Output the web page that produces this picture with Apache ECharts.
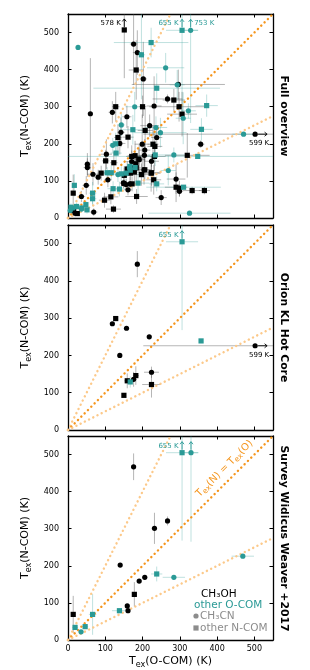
<!DOCTYPE html>
<html><head><meta charset="utf-8">
<script src="https://cdn.jsdelivr.net/npm/echarts@6/dist/echarts.min.js"></script>
<style>html,body{margin:0;padding:0;background:#fff}#c{width:310px;height:670px}</style>
</head><body><div id="c"></div><script>
// ---------------- data ----------------
const tickValues = [0, 100, 200, 300, 400, 500];
const axisMax = 550;
const panelTitles = ['Full overview', 'Orion KL Hot Core', 'Survey Widicus Weaver +2017'];
// point: [Tex(O-COM) K, Tex(N-COM) K, x error K, y error K]
// Full overview
const full_ch3oh_ch3cn = [
 [176,469,10,110],[186,446,12,60],[202,375,10,100],[296,360,125,40],[267,321,40,12],[60,281,0,150],
 [119,285,10,30],[158,273,12,30],[231,302,20,80],[142,231,10,40],[139,201,15,30],[219,249,25,30],
 [238,217,15,30],[199,199,20,80],[206,183,15,30],[356,199,10,10],[502,226,300,0],[224,153,20,15],
 [103,172,15,40],[52,145,8,30],[52,136,10,25],[67,118,15,30],[81,110,10,20],[49,88,10,25],
 [107,103,10,20],[149,95,10,15],[156,90,10,15],[166,92,10,20],[161,76,10,15],[250,55,15,20],
 [69,16,10,10],[36,58,10,15],[290,105,25,40],[19,13,5,8],[191,157,15,40],[205,169,15,30],
 [171,152,15,30],[176,136,8,20],[299,72,10,15],[204,130,20,40],[300,80,8,10],[12,22,5,8]
];
const full_ch3oh_ncom = [
 [151,507,0,130],[183,399,20,80],[284,318,30,30],[298,300,80,40],[306,280,40,60],[128,300,10,40],
 [200,300,10,30],[134,217,10,35],[161,218,15,30],[207,236,20,60],[228,199,15,50],[320,169,60,60],
 [232,166,30,40],[14,67,5,50],[98,48,15,20],[115,57,20,20],[122,24,20,10],[184,58,30,20],
 [333,74,25,10],[366,74,15,10],[290,83,30,40],[299,80,15,20],[223,121,25,50],[230,103,20,40],
 [197,117,20,30],[206,130,15,30],[171,166,15,30],[180,168,20,40],[190,159,15,30],[123,149,10,30],
 [101,154,10,30],[89,121,10,20],[168,121,10,20],[178,124,20,30],[151,115,15,25],[233,193,20,30],
 [183,135,25,35],[172,92,10,20],[150,93,10,10],[159,132,10,20],[182,146,10,25],[224,122,25,35],
 [15,20,5,8],[25,12,5,6]
];
const full_ocom_ch3cn = [
 [27,460,0,0],[262,405,50,40],[293,359,20,40],[309,269,20,70],[323,289,20,20],[179,300,25,40],
 [143,251,10,30],[236,244,30,30],[248,230,70,40],[471,226,30,0],[284,170,30,20],[329,506,20,250],
 [269,128,20,40],[326,13,110,0],[134,117,15,20],[165,135,15,20],[36,24,8,10],[14,27,5,10],
 [120,196,10,20],[6,20,5,5]
];
const full_ocom_ncom = [
 [223,473,100,40],[197,440,10,120],[306,506,43,240],[238,350,170,40],[372,303,30,30],[174,238,40,40],
 [128,200,15,30],[358,239,30,30],[348,166,350,0],[17,88,5,30],[66,67,10,30],[66,52,10,20],
 [121,79,15,20],[138,78,20,20],[188,94,30,30],[238,92,20,20],[310,83,100,0],[105,122,20,15],
 [116,122,15,20],[156,121,15,20],[143,119,10,20],[166,139,10,20],[180,136,10,20],[129,175,15,20],
 [234,170,20,30],[8,29,5,10],[23,31,5,10],[37,27,5,10],[51,22,5,10],[48,36,5,10],[167,129,10,15]
];
// Orion KL Hot Core
const orion_ch3oh_ch3cn = [[186,445,0,35],[119,285,0,0],[157,273,0,0],[218,250,0,0],[139,200,0,0],[176,136,8,20],[224,155,20,15],[502,226,300,0]];
const orion_ch3oh_ncom = [[128,299,0,0],[150,93,0,0],[159,132,8,20],[182,146,8,25],[224,122,25,35]];
const orion_ocom_ch3cn = [];
const orion_ocom_ncom = [[167,129,10,15],[306,505,43,237],[357,239,0,0]];
// Survey Widicus Weaver +2017
const survey_ch3oh_ch3cn = [[176,467,0,36],[232,301,0,42],[267,321,5,12],[140,202,0,0],[191,159,0,0],[206,169,0,0],[159,92,0,0],[161,79,0,0]];
const survey_ch3oh_ncom = [[178,123,0,33],[14,69,0,50]];
const survey_ocom_ch3cn = [[330,505,20,240],[284,169,30,5],[469,226,30,5],[35,22,8,5]];
const survey_ocom_ncom = [[306,505,43,237],[238,178,15,20],[138,79,20,5],[66,69,10,55],[19,34,8,5],[46,36,8,5]];
// limit annotations: [x, y, direction, label, label side, group]
const full_limits = [[151,507,'up','578 K','left','CH3OH'],[306,506,'up','655 K','left','O-COM'],[329,506,'up','753 K','right','O-COM'],[502,226,'right','599 K','below','CH3OH']];
const orion_limits = [[306,505,'up','655 K','left','O-COM'],[502,226,'right','599 K','below','CH3OH']];
const survey_limits = [[306,505,'up','655 K','left','O-COM'],[330,505,'up','','left','O-COM']];
// reference lines: slope of Tex(N) vs Tex(O)
const refSlopes = [2, 1, 0.5];
const legendLabels = ['CH₃OH', 'other O-COM', 'CH₃CN', 'other N-COM'];

// ---------------- chart ----------------
const FONT = 'DejaVu Sans';
const BLACK = '#000', TEAL = '#2a9a96', GRAY = '#8c8c8c';
const ORANGE = '#f5961e', LORANGE = '#fcc98a';
const GL = 68, GW = 205;
const grids = [{left:GL,width:GW,top:14,height:204},{left:GL,width:GW,top:225,height:205},{left:GL,width:GW,top:436,height:205}];
const panels = [
 {sets:[full_ch3oh_ch3cn, full_ch3oh_ncom, full_ocom_ch3cn, full_ocom_ncom], limits: full_limits},
 {sets:[orion_ch3oh_ch3cn, orion_ch3oh_ncom, orion_ocom_ch3cn, orion_ocom_ncom], limits: orion_limits},
 {sets:[survey_ch3oh_ch3cn, survey_ch3oh_ncom, survey_ocom_ch3cn, survey_ocom_ncom], limits: survey_limits}
];
const setStyle = [
 {sym:'circle', size:5.2, color:BLACK, err:'rgba(70,70,70,0.4)'},
 {sym:'rect', size:5.2, color:BLACK, err:'rgba(70,70,70,0.4)'},
 {sym:'circle', size:5.2, color:TEAL, err:'rgba(42,154,150,0.3)'},
 {sym:'rect', size:5.2, color:TEAL, err:'rgba(42,154,150,0.3)'}
];
const richName = {
 m:{fontSize:11, fontFamily:FONT, color:'#000', lineHeight:15},
 s:{fontSize:8, fontFamily:FONT, color:'#000', verticalAlign:'bottom', lineHeight:10, padding:[3,0,0,0]}
};
const xAxes = [], yAxes = [], series = [];
function axisBase(){
 return {type:'value', min:0, max:axisMax, interval:100,
  axisLine:{show:true, onZero:false, lineStyle:{color:'#000', width:1.3}},
  axisTick:{show:true, inside:true, length:3.5, customValues:tickValues, lineStyle:{color:'#000', width:1}},
  splitLine:{show:false},
  axisLabel:{show:false}};
}
grids.forEach((g, i) => {
 const last = i === grids.length - 1;
 const xb = axisBase(); xb.gridIndex = i; xb.position = 'bottom';
 if (last) {
  xb.axisLabel = {show:true, customValues:tickValues, fontSize:8, fontFamily:FONT, color:'#000', margin:5};
  xb.name = '{m|T}{s|ex}{m|(O-COM) (K)}'; xb.nameLocation = 'middle'; xb.nameGap = 14;
  xb.nameTextStyle = {rich:richName};
 }
 const xt = axisBase(); xt.gridIndex = i; xt.position = 'top';
 const yl = axisBase(); yl.gridIndex = i; yl.position = 'left';
 yl.axisLabel = {show:true, customValues:tickValues, fontSize:8, fontFamily:FONT, color:'#000', margin:9};
 yl.name = '{m|T}{s|ex}{m|(N-COM) (K)}'; yl.nameLocation = 'middle'; yl.nameGap = 23;
 yl.nameTextStyle = {rich:richName};
 const yr = axisBase(); yr.gridIndex = i; yr.position = 'right';
 xAxes.push(xb, xt); yAxes.push(yl, yr);
});

function errRender(color){
 return function(params, api){
  const x = api.value(0), y = api.value(1), ex = api.value(2), ey = api.value(3);
  const st = {stroke:color, lineWidth:1};
  const ch = [];
  if (ex > 0) { const a = api.coord([x-ex,y]), b = api.coord([x+ex,y]); ch.push({type:'line', shape:{x1:a[0],y1:a[1],x2:b[0],y2:b[1]}, style:st}); }
  if (ey > 0) { const a = api.coord([x,y-ey]), b = api.coord([x,y+ey]); ch.push({type:'line', shape:{x1:a[0],y1:a[1],x2:b[0],y2:b[1]}, style:st}); }
  const cs = params.coordSys;
  return {type:'group', children:ch, clipPath:{type:'rect', shape:{x:cs.x, y:cs.y, width:cs.width, height:cs.height}}};
 };
}
function limitRender(lims){
 return function(params, api){
  const n = lims[params.dataIndex];
  const c = api.coord([n[0], n[1]]);
  const col = n[5] === 'O-COM' ? TEAL : BLACK;
  const ls = {stroke:col, lineWidth:0.9, fill:null};
  const ch = [];
  if (n[2] === 'up') {
   const x = c[0], y0 = c[1]-3, y1 = c[1]-11;
   ch.push({type:'line', shape:{x1:x,y1:y0,x2:x,y2:y1}, style:ls});
   ch.push({type:'polyline', shape:{points:[[x-2,y1+2.5],[x,y1],[x+2,y1+2.5]]}, style:ls});
   if (n[3]) ch.push({type:'text', x: n[4]==='left' ? x-3.5 : x+3.5, y:c[1]-7, style:{text:n[3], fill:col, font:'7px '+FONT, align:n[4]==='left'?'right':'left', verticalAlign:'middle'}});
  } else {
   const y = c[1], x0 = c[0]+3, x1 = c[0]+12;
   ch.push({type:'line', shape:{x1:x0,y1:y,x2:x1,y2:y}, style:ls});
   ch.push({type:'polyline', shape:{points:[[x1-2.5,y-2],[x1,y],[x1-2.5,y+2]]}, style:ls});
   ch.push({type:'text', x:c[0]+4, y:y+9, style:{text:n[3], fill:col, font:'7px '+FONT, align:'center', verticalAlign:'middle'}});
  }
  return {type:'group', children:ch};
 };
}

panels.forEach((p, i) => {
 const ax = {xAxisIndex:2*i, yAxisIndex:2*i};
 p.sets.forEach((d, k) => {
  series.push(Object.assign({type:'custom', silent:true, clip:true, z:1, data:d, encode:{x:0, y:1},
   renderItem: errRender(setStyle[k].err)}, ax));
 });
 refSlopes.forEach(s => {
  const end = s >= 1 ? [axisMax/s, axisMax] : [axisMax, axisMax*s];
  series.push(Object.assign({type:'line', silent:true, symbol:'none', z:2, clip:true,
   data:[[0,0], end],
   lineStyle:{color: s === 1 ? ORANGE : LORANGE, width:2.4, type:[0.1,4.6], cap:'round'}}, ax));
 });
 p.sets.forEach((d, k) => {
  series.push(Object.assign({type:'scatter', silent:true, z:3, symbol:setStyle[k].sym, symbolSize:setStyle[k].size,
   itemStyle:{color:setStyle[k].color, opacity:1}, data:d.map(v => [v[0], v[1]])}, ax));
 });
 series.push(Object.assign({type:'custom', silent:true, z:4, data:p.limits.map(n => [n[0], n[1]]), encode:{x:0,y:1},
  renderItem: limitRender(p.limits)}, ax));
});
// diagonal label in last panel along Tex(N) = Tex(O)
const diagLabelAt = [[420, 462]];
series.push({type:'custom', silent:true, z:4, xAxisIndex:4, yAxisIndex:4, data:diagLabelAt, encode:{x:0,y:1},
 renderItem: function(params, api){
  const c = api.coord([api.value(0), api.value(1)]);
  return {type:'text', x:c[0], y:c[1], rotation:Math.PI/4,
   style:{text:'{m|T}{s|ex}{m|(N) = T}{s|ex}{m|(O)}', align:'center', verticalAlign:'middle',
    rich:{m:{fontSize:10, fontFamily:FONT, fill:ORANGE, lineHeight:13}, s:{fontSize:7.5, fontFamily:FONT, fill:ORANGE, verticalAlign:'bottom', lineHeight:9, padding:[3,0,0,0]}}}};
 }});

const graphic = [];
grids.forEach((g, i) => {
 graphic.push({type:'text', x:284, y:g.top + g.height/2, rotation:-Math.PI/2,
  style:{text:panelTitles[i], font:'bold 10.8px '+FONT, fill:'#000', align:'center', verticalAlign:'middle'}});
});
graphic.push({type:'text', x:201, y:594, style:{text:legendLabels[0], font:'10.5px '+FONT, fill:BLACK, verticalAlign:'middle'}});
graphic.push({type:'text', x:194, y:605, style:{text:legendLabels[1], font:'10.5px '+FONT, fill:TEAL, verticalAlign:'middle'}});
graphic.push({type:'circle', shape:{cx:196, cy:616, r:2.6}, style:{fill:GRAY}});
graphic.push({type:'text', x:200, y:616, style:{text:legendLabels[2], font:'10.5px '+FONT, fill:GRAY, verticalAlign:'middle'}});
graphic.push({type:'rect', shape:{x:193.4, y:625.4, width:5.2, height:5.2}, style:{fill:GRAY}});
graphic.push({type:'text', x:200, y:628, style:{text:legendLabels[3], font:'10.5px '+FONT, fill:GRAY, verticalAlign:'middle'}});

const chart = echarts.init(document.getElementById('c'), null, {width:310, height:670});
chart.setOption({animation:false, backgroundColor:'#fff', grid:grids, xAxis:xAxes, yAxis:yAxes, series:series, graphic:graphic});
</script></body></html>
